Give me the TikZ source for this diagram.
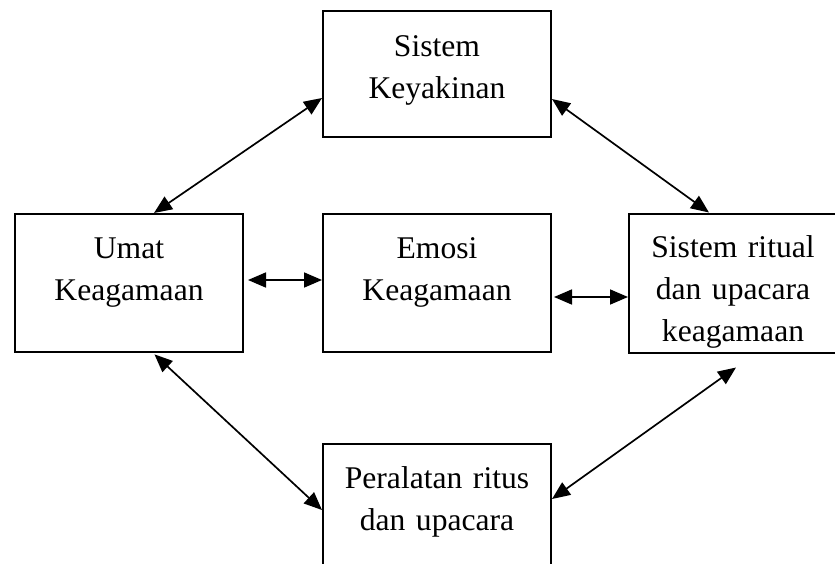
\documentclass[tikz,border=0pt]{standalone}
\usepackage{fontspec}
\setmainfont{Liberation Serif}
\usetikzlibrary{positioning,arrows.meta,calc}
\tikzset{
  box/.style={draw, line width=1pt, text width=114pt, align=center, inner sep=0pt,
              text height=22pt, text depth=47pt, font=\fontsize{15.8}{21}\selectfont},
  link/.style={<->, line width=0.85pt, >={Triangle[length=9pt,width=7.5pt]}},
}
\begin{document}
\begin{tikzpicture}
\clip (0,0) rectangle (417.5pt,-281.5pt);
%Nodes
\node[box] (umat) at (64.5pt,-141.5pt) {Umat\\Keagamaan};
\node[box] (emosi) [right=39pt of umat] {Emosi\\Keagamaan};
\node[box, text width=104pt, text height=22pt, text depth=47.5pt] (ritual) [right=38pt of emosi] {Sistem ritual\\dan upacara\\keagamaan};
\node[box, text height=22.5pt, text depth=40.5pt] (keyakinan) [above=37.5pt of emosi] {Sistem\\Keyakinan};
\node[box] (peralatan) [below=45pt of emosi] {Peralatan ritus\\dan upacara};

%Lines
\draw[link] ([xshift=12.5pt]umat.north) -- ([yshift=-12pt]keyakinan.west);
\draw[link] ([yshift=-12.5pt]keyakinan.east) -- ([xshift=-12pt]ritual.north);
\draw[link, shorten <=2pt] ([yshift=1.5pt]umat.east) -- ([yshift=1.5pt]emosi.west);
\draw[link, shorten <=1pt] ([yshift=-7pt]emosi.east) -- ([yshift=-7pt]ritual.west);
\draw[link, shorten <=1pt] ([xshift=12pt]umat.south) -- ([yshift=1.5pt]peralatan.west);
\draw[link] ([yshift=7pt]peralatan.east) -- ($(ritual.south)+(1.5pt,-7pt)$);
\end{tikzpicture}
\end{document}
